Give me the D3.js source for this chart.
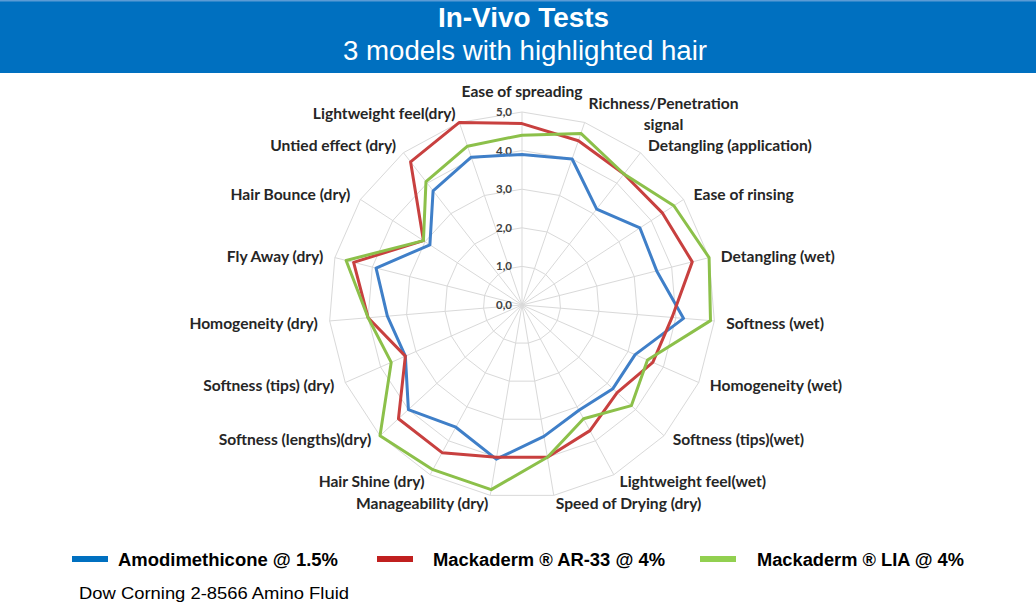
<!DOCTYPE html>
<html>
<head>
<meta charset="utf-8">
<script src="https://cdn.jsdelivr.net/npm/d3@7"></script>
<style>
  html, body { margin: 0; padding: 0; background: #ffffff; }
  svg { display: block; }
</style>
</head>
<body>
<svg id="chart" width="1036" height="606"></svg>
<script>
// ---------- data ----------
const categories = [
  "Ease of spreading",
  "Richness/Penetration|signal",
  "Detangling (application)",
  "Ease of rinsing",
  "Detangling (wet)",
  "Softness (wet)",
  "Homogeneity (wet)",
  "Softness (tips)(wet)",
  "Lightweight feel(wet)",
  "Speed of Drying (dry)",
  "Manageability (dry)",
  "Hair Shine (dry)",
  "Softness (lengths)(dry)",
  "Softness (tips) (dry)",
  "Homogeneity (dry)",
  "Fly Away (dry)",
  "Hair Bounce (dry)",
  "Untied effect (dry)",
  "Lightweight feel(dry)"
];
const seriesNames = ["Amodimethicone @ 1.5%", "Mackaderm \u00AE AR-33 @ 4%", "Mackaderm \u00AE LIA @ 4%"];
const amodimethicone = [3.9, 4.0, 3.15, 3.65, 3.6, 4.2, 3.2, 3.2, 3.1, 3.45, 4.05, 3.6, 4.0, 3.3, 3.5, 3.9, 2.85, 3.75, 4.05];
const ar33           = [4.7, 4.5, 4.3, 4.35, 4.55, 3.9, 3.7, 3.35, 3.7, 4.0, 4.0, 4.35, 4.35, 3.3, 4.0, 4.5, 3.05, 4.7, 5.0];
const lia            = [4.4, 4.7, 4.3, 4.7, 5.0, 4.9, 3.55, 3.85, 3.35, 4.0, 4.85, 4.85, 5.0, 3.7, 4.0, 4.7, 3.05, 4.05, 4.35];
const tickValues = [0, 1, 2, 3, 4, 5];
const tickLabels = ["0,0", "1,0", "2,0", "3,0", "4,0", "5,0"];
const titleText = "In-Vivo Tests";
const subtitleText = "3 models with highlighted hair";
const footnoteText = "Dow Corning 2-8566 Amino Fluid";

// ---------- layout ----------
const svg = d3.select("#chart");
const W = 1036, H = 606;
const cx = 522, cy = 305, R = 193;
const chartColors = ["#3f7fc8", "#c8403f", "#8cc04a"];
const legendColors = ["#0070c0", "#c0201f", "#92d050"];
const labelFont = "Lato, 'Open Sans', sans-serif";
const arialFont = "'Liberation Sans', Arial, sans-serif";

// title bar
svg.append("rect").attr("x", 0).attr("y", 0).attr("width", W).attr("height", 73).attr("fill", "#0070c0");
svg.append("rect").attr("x", 0).attr("y", 0).attr("width", W).attr("height", 1.5).attr("fill", "#5b9bd5");
svg.append("text").attr("x", 523.5).attr("y", 27)
  .attr("text-anchor", "middle").attr("fill", "#fff")
  .style("font-family", arialFont).style("font-weight", "bold").style("font-size", "27px")
  .attr("textLength", 171).attr("lengthAdjust", "spacingAndGlyphs")
  .text(titleText);
svg.append("text").attr("x", 525).attr("y", 60)
  .attr("text-anchor", "middle").attr("fill", "#fff")
  .style("font-family", arialFont).style("font-size", "27px")
  .attr("textLength", 364).attr("lengthAdjust", "spacingAndGlyphs")
  .text(subtitleText);

// scales
const n = categories.length;
const angle = d3.scaleLinear().domain([0, n]).range([0, 2 * Math.PI]);
const r = d3.scaleLinear().domain([0, 5]).range([0, R]);

const g = svg.append("g").attr("transform", `translate(${cx},${cy})`);

// grid rings
const ring = d3.lineRadial().curve(d3.curveLinearClosed)
  .angle((d, i) => angle(i)).radius(d => r(d));
tickValues.filter(v => v > 0).forEach(v => {
  g.append("path").attr("d", ring(categories.map(() => v)))
    .attr("fill", "none").attr("stroke", "#d9d9d9").attr("stroke-width", 1);
});
// spokes
categories.forEach((c, i) => {
  const a = angle(i);
  g.append("line").attr("x1", 0).attr("y1", 0)
    .attr("x2", r(5) * Math.sin(a)).attr("y2", -r(5) * Math.cos(a))
    .attr("stroke", "#d9d9d9").attr("stroke-width", 1);
});

// tick labels
g.selectAll("text.tick").data(tickValues).enter().append("text")
  .attr("class", "tick")
  .attr("x", -10).attr("y", d => -r(d))
  .attr("dy", "0.35em")
  .attr("text-anchor", "end")
  .attr("fill", "#404040")
  .style("font-family", labelFont).style("font-weight", "bold").style("font-size", "11.5px")
  .text((d, i) => tickLabels[i]);

// data series
const lineGen = d3.lineRadial().curve(d3.curveLinearClosed)
  .angle((d, i) => angle(i)).radius(d => r(d));
[amodimethicone, ar33, lia].forEach((s, k) => {
  g.append("path").attr("d", lineGen(s))
    .attr("fill", "none").attr("stroke", chartColors[k])
    .attr("stroke-width", 3).attr("stroke-linejoin", "round");
});

// category labels
const labelR = r(5) + 12;
categories.forEach((c, i) => {
  const a = angle(i);
  const s = Math.sin(a), co = Math.cos(a);
  const x = labelR * s, y = -labelR * co;
  const anchor = Math.abs(s) < 0.05 ? "middle" : (s > 0 ? "start" : "end");
  const yShift = co >= 0 ? 2 : 2 - 6 * Math.min(1, -co * 1.5);
  const lines = c.split("|");
  const t = g.append("text")
    .attr("text-anchor", anchor)
    .attr("fill", "#262626")
    .style("font-family", labelFont).style("font-weight", "bold").style("font-size", "15.6px");
  if (i === 0) {
    t.attr("x", x).attr("y", y - 3).text(lines[0]);
  } else if (lines.length === 1) {
    t.attr("x", x).attr("y", y + yShift).attr("dy", "0.35em").text(lines[0]);
  } else {
    t.attr("x", x).attr("y", y - 8).attr("dy", "0.35em").text(lines[0]);
    const w = t.node().getComputedTextLength();
    g.append("text").attr("x", x + w / 2).attr("y", y + 13).attr("dy", "0.35em")
      .attr("text-anchor", "middle").attr("fill", "#262626")
      .style("font-family", labelFont).style("font-weight", "bold").style("font-size", "15.6px")
      .text(lines[1]);
  }
});

// legend
const legendX = [72, 377, 700];
const legendTextX = [118, 433, 757];
const legendTextW = [220, 232, 207];
seriesNames.forEach((name, k) => {
  svg.append("rect").attr("x", legendX[k]).attr("y", 556).attr("width", 36).attr("height", 6)
    .attr("fill", legendColors[k]);
  svg.append("text").attr("x", legendTextX[k]).attr("y", 566)
    .attr("fill", "#000")
    .style("font-family", arialFont).style("font-weight", "bold").style("font-size", "17.5px")
    .attr("textLength", legendTextW[k]).attr("lengthAdjust", "spacingAndGlyphs")
    .text(name);
});
svg.append("text").attr("x", 79).attr("y", 599)
  .attr("fill", "#000")
  .style("font-family", arialFont).style("font-size", "17px")
  .attr("textLength", 270).attr("lengthAdjust", "spacingAndGlyphs")
  .text(footnoteText);
</script>
</body>
</html>
